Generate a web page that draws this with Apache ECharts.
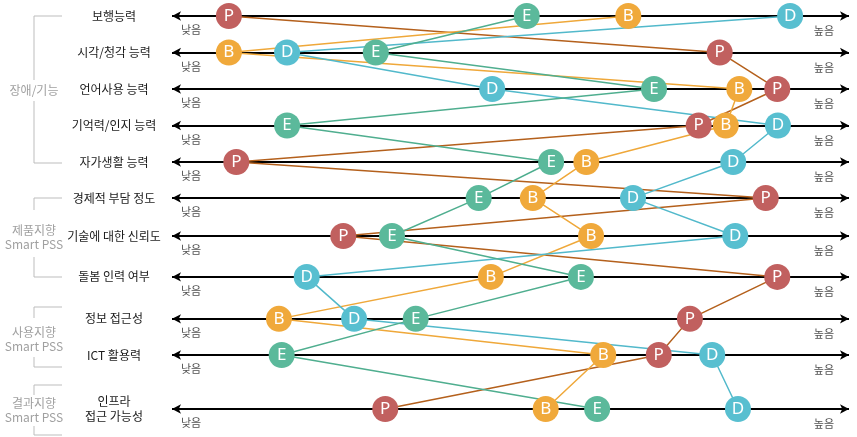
<!DOCTYPE html>
<html><head><meta charset="utf-8">
<script src="https://cdn.jsdelivr.net/npm/echarts@6/dist/echarts.min.js"></script>
<style>html,body{margin:0;padding:0;background:#fff}#c{width:857px;height:437px}</style>
</head><body><div id="c"></div>
<script>
// ---- data ----
const rowLabels = ['보행능력','시각/청각 능력','언어사용 능력','기억력/인지 능력','자가생활 능력','경제적 부담 정도','기술에 대한 신뢰도','돌봄 인력 여부','정보 접근성','ICT 활용력','인프라\n접근 가능성'];
const lowLabel = '낮음';
const highLabel = '높음';
const P = [8.4,80.9,89.4,77.8,9.5,87.7,25.3,89.4,76.5,71.9,31.5];
const E = [52.4,30.1,71.2,17.0,56.0,45.3,32.5,60.4,36.0,16.2,62.8];
const B = [67.4,8.4,83.8,81.8,61.2,53.3,61.9,47.1,15.8,63.7,55.2];
const D = [91.3,17.0,47.3,89.5,82.9,68.1,83.2,19.9,26.9,79.8,83.6];
const groupNames = ['장애/기능','제품지향\nSmart PSS','사용지향\nSmart PSS','결과지향\nSmart PSS'];

// ---- layout (row placement along the vertical axis) ----
const rowPos = [0,1,2,3,4,4.99,6.03,7.15,8.30,9.29,10.77];

const letters = [
  {name:'P', vals:P, circle:'#c1605f', line:'#b4601c'},
  {name:'B', vals:B, circle:'#f0a93b', line:'#efa83a'},
  {name:'D', vals:D, circle:'#58bfd0', line:'#52b9cb'},
  {name:'E', vals:E, circle:'#5bb99b', line:'#4fae8f'}
];

const chart = echarts.init(document.getElementById('c'));
const series = [];
// axis arrows
series.push({
  type:'line', data:[], silent:true, z:0, zlevel:0,
  markLine:{
    silent:true, symbol:['arrow','arrow'], symbolSize:[7,9], z:0,
    lineStyle:{color:'#000', width:2, type:'solid'},
    label:{show:false},
    emphasis:{disabled:true},
    data: rowPos.map(r => [{coord:[0,r]},{coord:[100,r]}])
  }
});
// low / high labels
series.push({
  type:'scatter', silent:true, symbolSize:0, z:1,
  data: rowPos.map(r=>[0,r]),
  label:{show:true, position:'right', offset:[4,14], formatter:lowLabel, fontSize:11, color:'#222', fontFamily:'Noto Sans CJK KR'}
});
series.push({
  type:'scatter', silent:true, symbolSize:0, z:1,
  data: rowPos.map(r=>[100,r]),
  label:{show:true, position:'left', offset:[-10,15], formatter:highLabel, fontSize:11, color:'#222', fontFamily:'Noto Sans CJK KR'}
});
letters.forEach(L => {
  series.push({
    type:'line', silent:true, z:5, symbol:'none',
    lineStyle:{color:L.line, width:1.5},
    data: L.vals.map((v,i)=>[v,rowPos[i]])
  });
});
letters.forEach(L => {
  series.push({
    type:'scatter', silent:true, z:10, zlevel:1, symbol:'circle', symbolSize:26,
    itemStyle:{color:L.circle, opacity:1},
    label:{show:true, position:'inside', formatter:L.name, color:'#fff', fontSize:17, fontFamily:'Noto Sans'},
    data: L.vals.map((v,i)=>[v,rowPos[i]])
  });
});

// group brackets (decoration)
const gray = '#bdbdbd';
function bracket(y1, y2, gapTop, gapBot){
  const x = 34, x2 = 62, els = [];
  els.push({type:'polyline', shape:{points:[[x2,y1],[x,y1],[x,gapTop]]}, style:{stroke:gray, lineWidth:1, fill:null}});
  els.push({type:'polyline', shape:{points:[[x,gapBot],[x,y2],[x2,y2]]}, style:{stroke:gray, lineWidth:1, fill:null}});
  return els;
}
const groupText = (txt, cy) => ({type:'text', x:34, y:cy, style:{text:txt, fill:'#a0a0a0', font:'12px "Noto Sans CJK KR"', align:'center', verticalAlign:'middle', lineHeight:14}});
const graphics = [].concat(
  bracket(16, 163, 80, 101), [groupText(groupNames[0], 90)],
  bracket(198, 277, 210, 257), [groupText(groupNames[1], 237)],
  bracket(307, 367, 318, 357), [groupText(groupNames[2], 339)],
  bracket(385, 435, 395, 426), [groupText(groupNames[3], 410)]
);

chart.setOption({
  animation:false,
  grid:{left:172, right:8, top:16, bottom:28},
  xAxis:{type:'value', min:0, max:100, show:false},
  yAxis:{type:'value', inverse:true, min:0, max:10.77,
    axisLine:{show:false}, axisTick:{show:false}, splitLine:{show:false},
    axisLabel:{show:true, customValues:rowPos, margin:58, align:'center',
      fontSize:12, color:'#1a1a1a', fontFamily:'Noto Sans CJK KR', lineHeight:15,
      formatter: v => { const i = rowPos.indexOf(v); return i>=0 ? rowLabels[i] : ''; }}
  },
  graphic: graphics,
  series: series
});
</script></body></html>
